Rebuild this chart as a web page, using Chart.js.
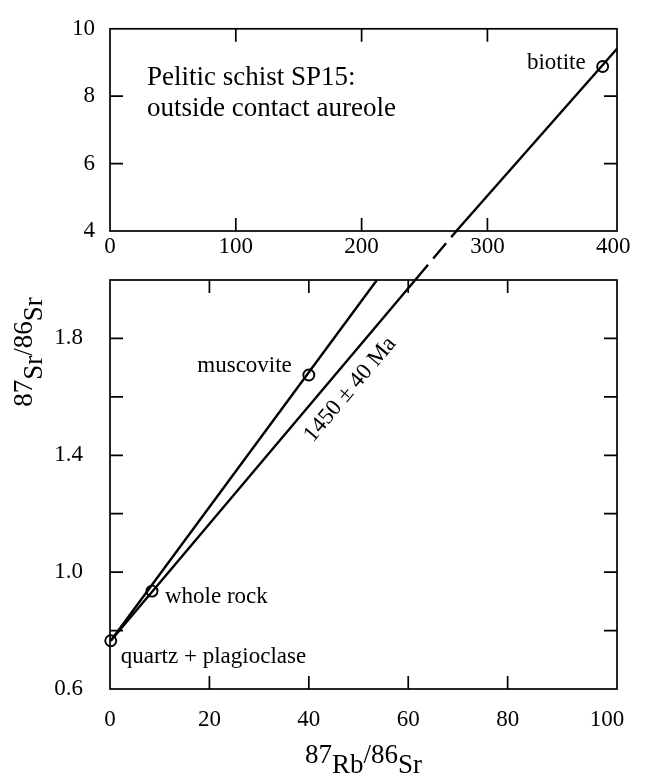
<!DOCTYPE html>
<html><head><meta charset="utf-8">
<script src="https://cdn.jsdelivr.net/npm/chart.js@4/dist/chart.umd.min.js"></script>
<style>
html,body{margin:0;padding:0;background:#fff;}
#wrap{position:relative;width:645px;height:776px;background:#fff;}
canvas{position:absolute;left:0;top:0;}
</style></head><body>
<div id="wrap"><canvas id="bottom" width="645" height="776"></canvas><canvas id="top" width="645" height="776"></canvas></div>
<script>
// ---------------- data ----------------
const topXTicks = [0, 100, 200, 300, 400];
const topYTicks = [4, 6, 8, 10];
const topXMarks = [100, 200, 300];
const topYMarks = [6, 8];
const bottomXTicks = [0, 20, 40, 60, 80, 100];
const bottomYTicks = [0.6, 1.0, 1.4, 1.8];
const bottomXMarks = [20, 40, 60, 80];
const bottomYMarks = [0.8, 1.0, 1.2, 1.4, 1.6, 1.8];

const mineralNames = ['quartz + plagioclase', 'whole rock', 'muscovite'];
const mineralRbSr = [0.15, 8.45, 40.0];
const mineralSrSr = [0.765, 0.935, 1.675];
const biotiteName = 'biotite';
const biotiteRbSr = [391.6];
const biotiteSrSr = [8.88];

const isochronX = [0.15, 61.4];        // 1450 ± 40 Ma isochron, lower panel
const isochronY = [0.765, 2.0];
const isochronGapX = [61.4, 69.7];     // dashed continuation between panels
const isochronGapY = [2.0, 2.168];
const isochronTopX = [275.3, 403];     // continuation in upper panel
const isochronTopY = [4.0, 9.41];
const muscoviteLineX = [0.15, 53.7];   // muscovite – whole rock line
const muscoviteLineY = [0.765, 2.0];

const ageLabel = '1450 ± 40 Ma';
const panelTitle = ['Pelitic schist SP15:', 'outside contact aureole'];

// ---------------- helpers ----------------
const SERIF = '"Liberation Serif", "DejaVu Serif", "Times New Roman", serif';
const pts = (xs, ys) => xs.map((v, i) => ({x: v, y: ys[i]}));
Chart.defaults.font.family = SERIF;
Chart.defaults.color = '#000';

const framePlugin = {
  id: 'frame',
  beforeDatasetsDraw(chart, args, opts) {
    const {ctx, chartArea: a} = chart;
    const x = chart.scales.x, y = chart.scales.y;
    ctx.save();
    ctx.strokeStyle = '#000';
    ctx.lineWidth = 1.7;
    ctx.strokeRect(a.left, a.top, a.right - a.left, a.bottom - a.top);
    const L = 13;
    ctx.beginPath();
    opts.xMarks.forEach(v => {
      const p = x.getPixelForValue(v);
      ctx.moveTo(p, a.top); ctx.lineTo(p, a.top + L);
      ctx.moveTo(p, a.bottom); ctx.lineTo(p, a.bottom - L);
    });
    opts.yMarks.forEach(v => {
      const p = y.getPixelForValue(v);
      ctx.moveTo(a.left, p); ctx.lineTo(a.left + L, p);
      ctx.moveTo(a.right, p); ctx.lineTo(a.right - L, p);
    });
    ctx.stroke();
    ctx.restore();
  }
};

function lineDs(xs, ys, dash) {
  return {data: pts(xs, ys), showLine: true, borderColor: '#000', borderWidth: 2.4,
    pointRadius: 0, borderDash: dash || [], clip: false, fill: false};
}
function pointDs(xs, ys) {
  return {data: pts(xs, ys), showLine: false, pointRadius: 5.5, pointBorderWidth: 1.9,
    pointBorderColor: '#000', pointBackgroundColor: 'rgba(0,0,0,0)', clip: false};
}
function fixTicks(arr) { return s => { s.ticks = arr.map(v => ({value: v})); }; }

// ---------------- top panel ----------------
const topNotes = {
  id: 'topNotes',
  afterDraw(chart) {
    const {ctx, chartArea: a} = chart;
    const x = chart.scales.x, y = chart.scales.y;
    ctx.save();
    ctx.fillStyle = '#000';
    ctx.textBaseline = 'alphabetic';
    ctx.font = '27px ' + SERIF;
    ctx.textAlign = 'left';
    ctx.fillText(panelTitle[0], a.left + 37, a.top + 56);
    ctx.fillText(panelTitle[1], a.left + 37, a.top + 87);
    ctx.font = '23px ' + SERIF;
    ctx.textAlign = 'right';
    ctx.fillText(biotiteName, x.getPixelForValue(biotiteRbSr[0]) - 17, y.getPixelForValue(biotiteSrSr[0]) + 2);
    ctx.restore();
  }
};

new Chart(document.getElementById('top'), {
  type: 'scatter',
  data: {datasets: [lineDs(isochronTopX, isochronTopY), pointDs(biotiteRbSr, biotiteSrSr)]},
  options: {
    responsive: false, animation: false,
    layout: {padding: {left: 0, top: 20, right: 28, bottom: 505}},
    plugins: {legend: {display: false}, tooltip: {enabled: false},
      frame: {xMarks: topXMarks, yMarks: topYMarks}},
    scales: {
      x: {type: 'linear', min: 0, max: 403, grid: {display: false, drawTicks: false}, border: {display: false},
        afterBuildTicks: fixTicks(topXTicks), afterFit: s => { s.height = 40; },
        ticks: {font: {size: 23}, padding: 2, color: '#000', maxRotation: 0, callback: v => String(v)}},
      y: {type: 'linear', min: 4, max: 10, grid: {display: false, drawTicks: false}, border: {display: false},
        afterBuildTicks: fixTicks(topYTicks), afterFit: s => { s.width = 110; },
        ticks: {font: {size: 23}, padding: 15, color: '#000', callback: v => String(v)}}
    }
  },
  plugins: [framePlugin, topNotes]
});

// ---------------- bottom panel ----------------
function drawMixed(ctx, parts, big, shift) {
  ctx.font = big + 'px ' + SERIF;
  const w = parts.reduce((s, p) => s + ctx.measureText(p[0]).width, 0);
  let cx = -w / 2;
  parts.forEach(p => {
    ctx.fillText(p[0], cx, p[1] ? -shift : 0);
    cx += ctx.measureText(p[0]).width;
  });
}

const bottomNotes = {
  id: 'bottomNotes',
  afterDraw(chart) {
    const {ctx, chartArea: a} = chart;
    const x = chart.scales.x, y = chart.scales.y;
    ctx.save();
    ctx.fillStyle = '#000';
    ctx.textBaseline = 'alphabetic';
    ctx.font = '23px ' + SERIF;
    const px = mineralRbSr.map(v => x.getPixelForValue(v));
    const py = mineralSrSr.map(v => y.getPixelForValue(v));
    ctx.textAlign = 'left';
    ctx.fillText(mineralNames[0], px[0] + 10, py[0] + 22);
    ctx.fillText(mineralNames[1], px[1] + 13, py[1] + 12);
    ctx.textAlign = 'right';
    ctx.fillText(mineralNames[2], px[2] - 17, py[2] - 3);

    // age label along the isochron
    const x0 = x.getPixelForValue(isochronX[0]), y0 = y.getPixelForValue(isochronY[0]);
    const x1 = x.getPixelForValue(isochronX[1]), y1 = y.getPixelForValue(isochronY[1]);
    const ang = Math.atan2(y1 - y0, x1 - x0);
    const t = 0.734;
    const lx = x0 + (x1 - x0) * t, ly = y0 + (y1 - y0) * t;
    const nx = -Math.sin(ang), ny = Math.cos(ang);
    const off = 21;
    ctx.save();
    ctx.translate(lx + nx * off, ly + ny * off);
    ctx.rotate(ang);
    ctx.textAlign = 'center';
    ctx.textBaseline = 'middle';
    ctx.fillText(ageLabel, 0, 0);
    ctx.restore();

    // axis titles
    ctx.textAlign = 'left';
    ctx.textBaseline = 'alphabetic';
    ctx.save();
    ctx.translate((a.left + a.right) / 2, 773);
    drawMixed(ctx, [['87', true], ['Rb', false], ['/86', true], ['Sr', false]], 27, 10);
    ctx.restore();
    ctx.save();
    ctx.translate(42, 352);
    ctx.rotate(-Math.PI / 2);
    drawMixed(ctx, [['87', true], ['Sr', false], ['/86', true], ['Sr', false]], 27, 10);
    ctx.restore();
    ctx.restore();
  }
};

new Chart(document.getElementById('bottom'), {
  type: 'scatter',
  data: {datasets: [
    lineDs(muscoviteLineX, muscoviteLineY),
    lineDs(isochronX, isochronY),
    lineDs(isochronGapX, isochronGapY, [20, 8]),
    pointDs(mineralRbSr, mineralSrSr)
  ]},
  options: {
    responsive: false, animation: false,
    layout: {padding: {left: 0, top: 280, right: 28, bottom: 0}},
    plugins: {legend: {display: false}, tooltip: {enabled: false},
      frame: {xMarks: bottomXMarks, yMarks: bottomYMarks}},
    scales: {
      x: {type: 'linear', min: 0, max: 102, grid: {display: false, drawTicks: false}, border: {display: false},
        afterBuildTicks: fixTicks(bottomXTicks), afterFit: s => { s.height = 87; },
        ticks: {font: {size: 23}, padding: 17, color: '#000', maxRotation: 0, callback: v => String(v)}},
      y: {type: 'linear', min: 0.6, max: 2.0, grid: {display: false, drawTicks: false}, border: {display: false},
        afterBuildTicks: fixTicks(bottomYTicks), afterFit: s => { s.width = 110; },
        ticks: {font: {size: 23}, padding: 27, color: '#000', callback: v => v.toFixed(1)}}
    }
  },
  plugins: [framePlugin, bottomNotes]
});
</script>
</body></html>
